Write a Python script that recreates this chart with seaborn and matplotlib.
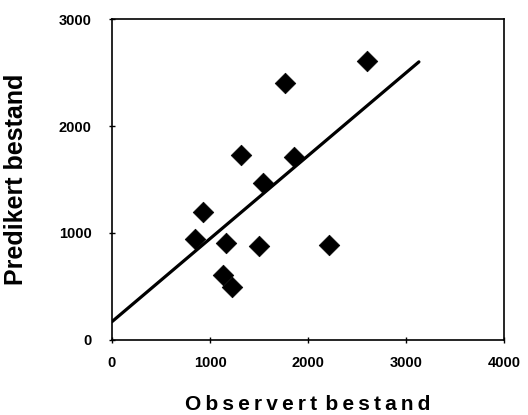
import matplotlib
matplotlib.use("Agg")
import matplotlib.pyplot as plt
import seaborn as sns
import pandas as pd

# observed vs predicted stock
observert = [2600, 1760, 1320, 1860, 1540, 930, 850, 1160, 1500, 2210, 1130, 1220]
predikert = [2610, 2400, 1730, 1710, 1470, 1200, 940, 910, 880, 890, 610, 490]

# fitted line end points
linje_x = [0, 3130]
linje_y = [170, 2600]

x_ticks = [0, 1000, 2000, 3000, 4000]
y_ticks = [0, 1000, 2000, 3000]

sns.set_theme(style="white")
plt.rcParams['font.family'] = ['Liberation Sans', 'DejaVu Sans']
plt.rcParams['text.color'] = 'black'
plt.rcParams['axes.labelcolor'] = 'black'
plt.rcParams['xtick.color'] = 'black'
plt.rcParams['ytick.color'] = 'black'

df = pd.DataFrame({"obs": observert, "pred": predikert})
df_line = pd.DataFrame({"x": linje_x, "y": linje_y})

fig = plt.figure(figsize=(5.28, 4.15), dpi=100)
ax = fig.add_axes([0.212, 0.181, 0.743, 0.773])

sns.lineplot(data=df_line, x="x", y="y", ax=ax, color="black", linewidth=2.3)
sns.scatterplot(data=df, x="obs", y="pred", ax=ax, marker="D", s=110,
                color="black", edgecolor="black", linewidth=0.5, zorder=3)

ax.set_xlim(0, 4000)
ax.set_ylim(0, 3000)
ax.set_xticks(x_ticks)
ax.set_yticks(y_ticks)
ax.set_xticklabels([str(v) for v in x_ticks], fontsize=10.5, fontweight="bold")
ax.set_yticklabels([str(v) for v in y_ticks], fontsize=10.5, fontweight="bold")
ax.tick_params(axis="x", direction="inout", length=5, width=1, pad=9, bottom=True)
ax.tick_params(axis="y", direction="inout", length=5, width=1, pad=12, left=True)

for sp in ax.spines.values():
    sp.set_visible(True)
    sp.set_color("black")
    sp.set_linewidth(1.2)

# spaced-out letters like the original
xlab = "\u2009".join("Observert") + "\u2009\u2009" + "\u2009".join("bestand")
ax.set_xlabel(xlab, fontsize=15, fontweight="bold", labelpad=18)
ax.set_ylabel("Predikert bestand", fontsize=18, fontweight="bold", labelpad=22)

fig.savefig("out.png", dpi=100)
